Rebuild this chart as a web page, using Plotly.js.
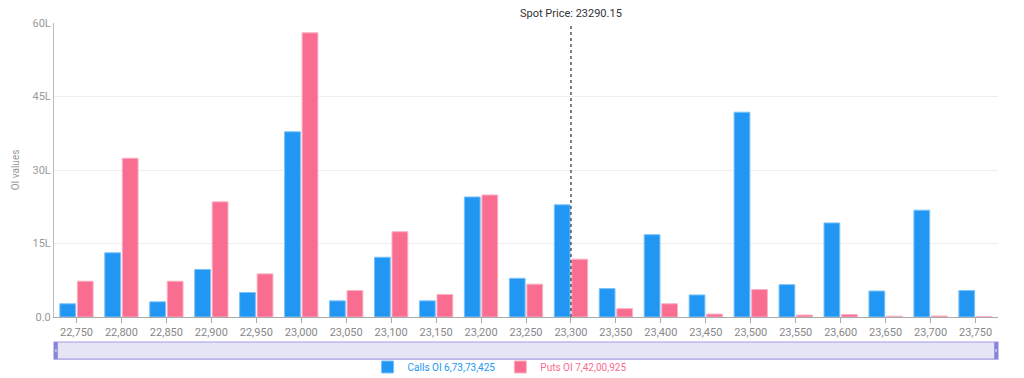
<!DOCTYPE html>
<html>
<head>
<meta charset="utf-8">
<script src="https://cdn.plot.ly/plotly-3.0.1.min.js"></script>
<style>html,body{margin:0;padding:0;background:#fff;}#chart{width:1024px;height:378px;}</style>
</head>
<body>
<div id="chart"></div>
<script>
// Strike prices
const strikes = [22750, 22800, 22850, 22900, 22950, 23000, 23050, 23100, 23150, 23200, 23250,
                 23300, 23350, 23400, 23450, 23500, 23550, 23600, 23650, 23700, 23750];
// Open interest in lakh (L)
const callsOI = [2.7, 13.1, 3.1, 9.7, 5.0, 37.8, 3.3, 12.2, 3.3, 24.5, 7.9,
                 22.9, 5.8, 16.8, 4.5, 41.8, 6.6, 19.2, 5.3, 21.8, 5.4];
const putsOI  = [7.3, 32.4, 7.3, 23.5, 8.8, 58.0, 5.4, 17.4, 4.6, 24.9, 6.7,
                 11.8, 1.7, 2.7, 0.6, 5.6, 0.4, 0.5, 0.15, 0.2, 0.05];
const callsTotal = '6,73,73,425';
const putsTotal = '7,42,00,925';
const spotPrice = 23290.15;
const yTickVals = [0, 15, 30, 45, 60];
const yTickText = ['0.0', '15L', '30L', '45L', '60L'];

const blue = '#2196F3', pink = '#F96D91';
const step = 50;
const spotStrike = Math.round(spotPrice / step) * step;

const traces = [
  {type: 'bar', x: strikes, y: callsOI, name: '<span style="color:' + blue + '">Calls OI ' + callsTotal + '</span>',
   marker: {color: blue, line: {color: '#7cc2f8', width: 1}}, hoverinfo: 'x+y'},
  {type: 'bar', x: strikes, y: putsOI, name: '<span style="color:' + pink + '">Puts OI ' + putsTotal + '</span>',
   marker: {color: pink, line: {color: '#fbb0c3', width: 1}}, hoverinfo: 'x+y'}
];

const layout = {
  width: 1024, height: 378,
  margin: {l: 54, r: 26, t: 23, b: 61, autoexpand: false},
  paper_bgcolor: '#fff', plot_bgcolor: '#fff',
  font: {family: 'Roboto, sans-serif', size: 11, color: '#888'},
  barmode: 'group', bargap: 0.22, bargroupgap: 0.1,
  showlegend: true,
  legend: {orientation: 'h', x: 0.472, xanchor: 'center', y: -0.17, yanchor: 'middle',
           font: {size: 10}, itemwidth: 30, traceorder: 'normal', bgcolor: 'rgba(0,0,0,0)',
           tracegroupgap: 0},
  xaxis: {
    range: [strikes[0] - step / 2, strikes[strikes.length - 1] + step / 2],
    tickvals: strikes, tickformat: ',d',
    showgrid: false, zeroline: false,
    showline: true, linecolor: '#aaa', linewidth: 1,
    ticks: 'outside', ticklen: 5, tickcolor: '#aaa',
    tickfont: {size: 11, color: '#888'}, fixedrange: true
  },
  yaxis: {
    range: [0, 60], tickvals: yTickVals, ticktext: yTickText,
    showgrid: true, gridcolor: '#eeeeee', zeroline: false,
    showline: true, linecolor: '#bbb', linewidth: 1,
    ticks: '', tickfont: {size: 11, color: '#999'},
    title: {text: 'OI values', font: {size: 10, color: '#999'}, standoff: 11},
    fixedrange: true
  },
  shapes: [
    {type: 'line', xref: 'x', yref: 'paper', x0: spotStrike, x1: spotStrike, y0: 0, y1: 1,
     line: {color: '#555', width: 1.5, dash: 'dot'}},
    // range navigator (static)
    {type: 'rect', xref: 'paper', yref: 'paper', x0: 0, x1: 1, y0: -0.143, y1: -0.085,
     fillcolor: '#e6e5f6', line: {color: '#a29ee2', width: 1.2}},
    {type: 'rect', xref: 'paper', yref: 'paper', x0: 0, x1: 0.004, y0: -0.143, y1: -0.085,
     fillcolor: '#8a83dc', line: {width: 0}},
    {type: 'rect', xref: 'paper', yref: 'paper', x0: 0.996, x1: 1, y0: -0.143, y1: -0.085,
     fillcolor: '#8a83dc', line: {width: 0}},
    {type: 'rect', xref: 'paper', yref: 'paper', x0: 0.0012, x1: 0.0028, y0: -0.118, y1: -0.110,
     fillcolor: '#d8d6f4', line: {width: 0}},
    {type: 'rect', xref: 'paper', yref: 'paper', x0: 0.9972, x1: 0.9988, y0: -0.118, y1: -0.110,
     fillcolor: '#d8d6f4', line: {width: 0}}
  ],
  annotations: [
    {xref: 'x', yref: 'paper', x: spotStrike, y: 1, yanchor: 'bottom', yshift: 1,
     text: 'Spot Price: ' + spotPrice.toFixed(2), showarrow: false,
     font: {size: 11, color: '#333'}}
  ]
};

Plotly.newPlot('chart', traces, layout, {displayModeBar: false, staticPlot: true});
</script>
</body>
</html>
